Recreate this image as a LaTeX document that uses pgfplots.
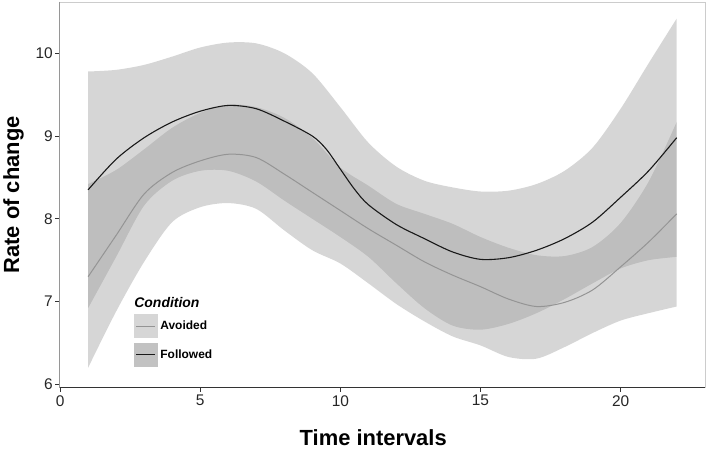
\documentclass[border=0pt]{standalone}
\usepackage{fontspec}
\setmainfont{Liberation Sans}
\usepackage{pgfplots}
\pgfplotsset{compat=1.18}
\usepgfplotslibrary{fillbetween}

\begin{document}
\begin{tikzpicture}
\begin{axis}[
  scale only axis,
  width=645.5bp, height=385.7bp,
  xmin=-0.02, xmax=23.01, ymin=5.959, ymax=10.62,
  axis line style={draw=black!20, line width=0.8bp},
  xtick={0,5,10,15,20}, ytick={6,7,8,9,10},
  tick align=outside, tick pos=left,
  major tick length=4bp,
  tick style={black!80, line width=0.9bp},
  /pgf/number format/assume math mode=true,
  ticklabel style={font=\fontsize{15.5}{18}\selectfont, text=black!85},
  yticklabel style={inner xsep=2.5bp},
  xlabel={Time intervals},
  ylabel={Rate of change},
  xlabel style={font=\bfseries\fontsize{22}{26}\selectfont, at={(axis description cs:0.486,-0.1486)}, anchor=base},
  ylabel style={font=\bfseries\fontsize{22}{26}\selectfont, at={(axis description cs:-0.0711,0.5)}, anchor=center},
  legend cell align=left,
  legend style={draw=none, fill=none, at={(axis description cs:0.1154,0.2331)}, anchor=north west,
    inner sep=0pt, outer sep=0pt, row sep=5bp, column sep=3bp,
    nodes={inner sep=0pt},
    font=\bfseries\fontsize{12}{14}\selectfont},
]
% Followed band
\addplot[name path=FU, draw=none, smooth, forget plot] table {
1 9.78
2 9.80
3 9.86
4 9.96
5 10.07
6 10.13
7 10.12
8 10.00
9 9.76
10 9.35
11 8.92
12 8.63
13 8.46
14 8.38
15 8.33
16 8.34
17 8.42
18 8.58
19 8.86
20 9.33
21 9.88
22 10.42
};
\addplot[name path=FL, draw=none, smooth, forget plot] table {
1 6.92
2 7.54
3 8.16
4 8.46
5 8.58
6 8.58
7 8.45
8 8.22
9 8.00
10 7.78
11 7.54
12 7.22
13 6.92
14 6.71
15 6.66
16 6.73
17 6.86
18 7.03
19 7.22
20 7.40
21 7.50
22 7.54
};
% Avoided band
\addplot[name path=AU, draw=none, smooth, forget plot] table {
1 8.42
2 8.59
3 8.84
4 9.10
5 9.28
6 9.38
7 9.35
8 9.22
9 8.98
10 8.62
11 8.40
12 8.18
13 8.06
14 7.94
15 7.78
16 7.65
17 7.56
18 7.55
19 7.66
20 7.95
21 8.45
22 9.17
};
\addplot[name path=AL, draw=none, smooth, forget plot] table {
1 6.20
2 6.88
3 7.48
4 7.96
5 8.14
6 8.19
7 8.12
8 7.86
9 7.62
10 7.46
11 7.22
12 6.97
13 6.76
14 6.58
15 6.47
16 6.33
17 6.31
18 6.45
19 6.62
20 6.77
21 6.86
22 6.94
};
\addplot[fill=black!40, fill opacity=0.4, draw=none, forget plot] fill between[of=AU and AL];
\addplot[fill=black!40, fill opacity=0.4, draw=none, forget plot] fill between[of=FU and FL];
% Avoided line
\addplot[color=black!42, line width=1bp, smooth, forget plot] table {
1 7.30
2 7.80
3 8.30
4 8.56
5 8.70
6 8.78
7 8.74
8 8.54
9 8.32
10 8.10
11 7.88
12 7.68
13 7.48
14 7.32
15 7.18
16 7.03
17 6.94
18 6.99
19 7.14
20 7.42
21 7.72
22 8.06
};
% Followed line
\addplot[color=black!90, line width=1.1bp, smooth, forget plot] table {
1 8.35
2 8.72
3 8.98
4 9.17
5 9.30
6 9.37
7 9.33
8 9.18
9 9.00
9.5 8.84
10 8.60
10.5 8.36
11 8.17
12 7.93
13 7.76
14 7.60
15 7.51
16 7.53
17 7.62
18 7.76
19 7.96
20 8.26
21 8.58
22 8.98
};
\draw[black!80, line width=1bp] (rel axis cs:0,1) -- (rel axis cs:0,0) -- (rel axis cs:1,0);
\addlegendimage{empty legend}
\addlegendentry{\hspace*{-26bp}\fontsize{14}{16}\selectfont\bfseries\itshape Condition\rule[-5bp]{0pt}{5bp}}
\addlegendimage{legend image code/.code={\fill[black!16] (0bp,-11.5bp) rectangle (23bp,11.5bp); \draw[black!42, line width=1bp] (2bp,0bp) -- (21bp,0bp);}}
\addlegendentry{Avoided}
\addlegendimage{legend image code/.code={\fill[black!24] (0bp,-11.5bp) rectangle (23bp,11.5bp); \draw[black!90, line width=1bp] (2bp,0bp) -- (21bp,0bp);}}
\addlegendentry{Followed}
\end{axis}
\pgfresetboundingbox
\path (-59.5bp,-62.3bp) rectangle (648.5bp,387.7bp);
\end{tikzpicture}
\end{document}
